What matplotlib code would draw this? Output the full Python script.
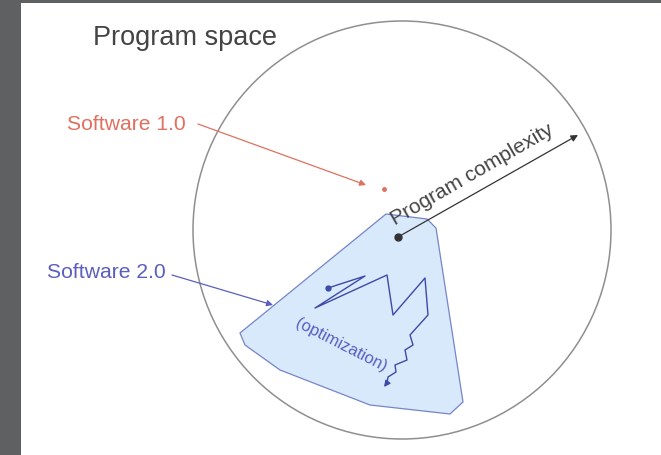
import matplotlib
matplotlib.use("Agg")
import matplotlib.pyplot as plt
from matplotlib.patches import Circle, Polygon, Rectangle

# ---- diagram data (pixel coordinates of the slide) ----
circle_center = (402, 230)
circle_radius = 209

region_x = [386, 427, 436, 463, 450, 370, 280, 245, 240]
region_y = [214, 219, 228, 402, 414, 405, 370, 345, 333]

path_x = [328, 365, 315, 387, 393, 425, 428, 410, 413, 405, 407, 395, 396, 388, 387, 384]
path_y = [288, 276, 308, 275, 315, 278, 315, 335, 345, 350, 360, 365, 372, 377, 383, 387]

complexity_start = (398, 237)
complexity_end = (578, 135)

sw1_label = "Software 1.0"
sw1_text_pos = (67, 125)
sw1_arrow_from = (198, 124)
sw1_arrow_to = (366, 185)
sw1_point = (384, 189)

sw2_label = "Software 2.0"
sw2_text_pos = (47, 272)
sw2_arrow_from = (172, 275)
sw2_arrow_to = (273, 305)

title_text = "Program space"
complexity_label = "Program complexity"
optim_label = "(optimization)"

FONT = "Liberation Sans"
RED = "#e0705f"
BLUE = "#5a5fc0"
DARKBLUE = "#3c4aa8"
GRAY = "#444444"

W, H = 661, 455
fig = plt.figure(figsize=(W / 100, H / 100), dpi=100)
fig.patch.set_facecolor("#5f6062")
ax = fig.add_axes([0, 0, 1, 1])
ax.set_xlim(0, W)
ax.set_ylim(H, 0)
ax.axis("off")

# white slide area
ax.add_patch(Rectangle((21, 3), W - 21, H - 3, facecolor="white", edgecolor="none", zorder=0))

# program space circle
ax.add_patch(Circle(circle_center, circle_radius, facecolor="none", edgecolor="#8f8f8f", lw=1.1, zorder=1))

# software 2.0 region
ax.add_patch(Polygon(list(zip(region_x, region_y)), closed=True, facecolor="#d8e9fb",
                     edgecolor="#7585c8", lw=0.9, zorder=2))

# optimization path
ax.plot(path_x[:-1], path_y[:-1], color=DARKBLUE, lw=1.0, zorder=4)
ax.annotate("", xy=(path_x[-1], path_y[-1]), xytext=(path_x[-2], path_y[-2]),
            arrowprops=dict(arrowstyle="-|>", color=DARKBLUE, lw=1.0, mutation_scale=9,
                            shrinkA=0, shrinkB=0), zorder=4)
ax.plot([path_x[0]], [path_y[0]], "o", color=DARKBLUE, ms=3.5, zorder=5)

# program complexity arrow
ax.annotate("", xy=complexity_end, xytext=complexity_start,
            arrowprops=dict(arrowstyle="-|>", color="#333333", lw=0.9, mutation_scale=10,
                            shrinkA=0, shrinkB=0), zorder=5)
ax.plot([complexity_start[0]], [complexity_start[1]], "o", color="#333333", ms=5, zorder=6)
ax.text(395, 226, complexity_label, rotation=30, rotation_mode="anchor", ha="left", va="baseline",
        fontsize=15, color=GRAY, family=FONT, zorder=6)

# title
ax.text(93, 38, title_text, ha="left", va="center", fontsize=19.5, color=GRAY, family=FONT)

# software 1.0
ax.text(sw1_text_pos[0], sw1_text_pos[1], sw1_label, ha="left", va="center", fontsize=15.2,
        color=RED, family=FONT)
ax.annotate("", xy=sw1_arrow_to, xytext=sw1_arrow_from,
            arrowprops=dict(arrowstyle="-|>", color=RED, lw=0.9, mutation_scale=9,
                            shrinkA=0, shrinkB=0))
ax.plot([sw1_point[0]], [sw1_point[1]], "o", color=RED, ms=2.5)

# software 2.0
ax.text(sw2_text_pos[0], sw2_text_pos[1], sw2_label, ha="left", va="center", fontsize=15.2,
        color=BLUE, family=FONT)
ax.annotate("", xy=sw2_arrow_to, xytext=sw2_arrow_from,
            arrowprops=dict(arrowstyle="-|>", color=BLUE, lw=0.9, mutation_scale=9,
                            shrinkA=0, shrinkB=0), zorder=5)

# optimization label
ax.text(341, 345, optim_label, rotation=-27, rotation_mode="anchor", ha="center", va="center",
        fontsize=12, color=BLUE, family=FONT, zorder=6)

fig.savefig("out.png", dpi=100, facecolor=fig.get_facecolor())
